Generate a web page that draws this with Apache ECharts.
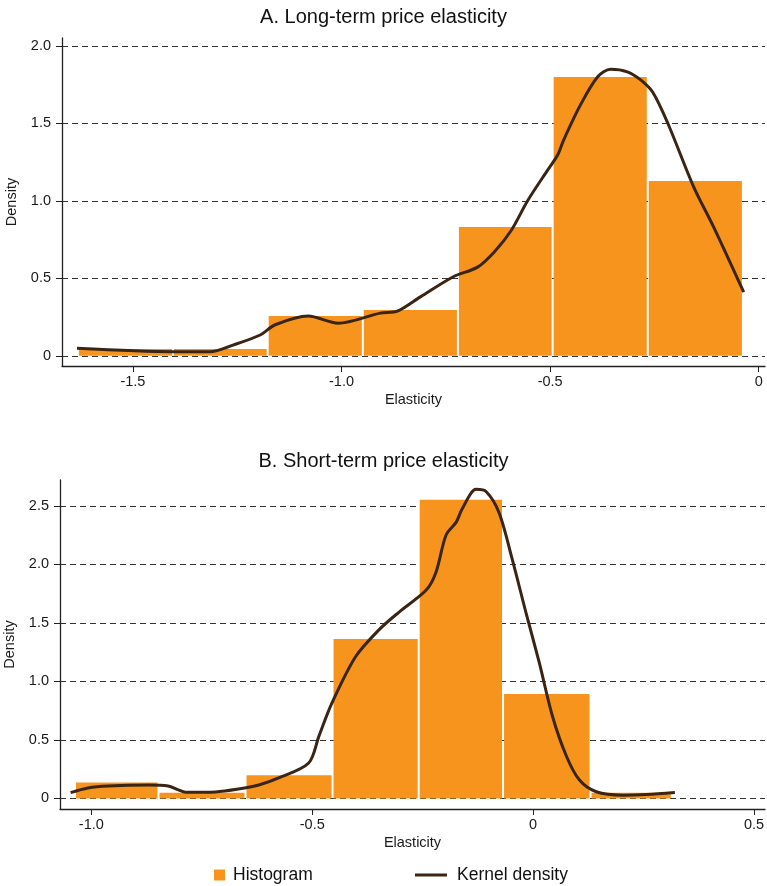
<!DOCTYPE html>
<html><head><meta charset="utf-8">
<script src="https://cdn.jsdelivr.net/npm/echarts@6/dist/echarts.min.js"></script>
<style>html,body{margin:0;padding:0;background:#fff}#c{width:767px;height:886px}</style>
</head><body><div id="c"></div>
<script>
// ---- Panel A: long-term price elasticity ----
const longBinEdges = [-1.632, -1.404, -1.177, -0.949, -0.721, -0.494, -0.266, -0.038];
const longDensity = [0.043, 0.043, 0.256, 0.295, 0.830, 1.798, 1.127];
const longKdeX = [-1.634, -1.404, -1.315, -1.260, -1.195, -1.159, -1.080, -1.008, -0.907, -0.866, -0.811, -0.732, -0.674, -0.634, -0.593, -0.554, -0.506, -0.482, -0.468, -0.427, -0.386, -0.355, -0.315, -0.283, -0.254, -0.218, -0.156, -0.108, -0.036];
const longKdeY = [0.048, 0.026, 0.026, 0.069, 0.134, 0.200, 0.256, 0.210, 0.275, 0.288, 0.380, 0.510, 0.572, 0.670, 0.810, 1.000, 1.198, 1.295, 1.390, 1.620, 1.800, 1.848, 1.832, 1.780, 1.700, 1.500, 1.090, 0.830, 0.410];
const longXTicks = [-1.5, -1.0, -0.5, 0];
const longYTicks = [0, 0.5, 1.0, 1.5, 2.0];

// ---- Panel B: short-term price elasticity ----
const shortBinEdges = [-1.037, -0.848, -0.651, -0.454, -0.259, -0.068, 0.130, 0.314];
const shortDensity = [0.137, 0.048, 0.199, 1.363, 2.552, 0.892, 0.048];
const shortKdeX = [-1.047, -1.008, -0.962, -0.871, -0.826, -0.803, -0.787, -0.719, -0.667, -0.621, -0.576, -0.508, -0.485, -0.456, -0.402, -0.349, -0.304, -0.242, -0.220, -0.197, -0.174, -0.161, -0.129, -0.106, -0.077, -0.047, -0.016, 0.014, 0.044, 0.076, 0.105, 0.143, 0.203, 0.257, 0.321];
const shortKdeY = [0.050, 0.090, 0.107, 0.115, 0.107, 0.073, 0.053, 0.056, 0.080, 0.115, 0.175, 0.303, 0.530, 0.810, 1.210, 1.440, 1.590, 1.780, 1.930, 2.250, 2.360, 2.470, 2.640, 2.620, 2.440, 2.040, 1.585, 1.160, 0.700, 0.356, 0.157, 0.057, 0.028, 0.034, 0.051];
const shortXTicks = [-1.0, -0.5, 0, 0.5];
const shortYTicks = [0, 0.5, 1.0, 1.5, 2.0, 2.5];

const ORANGE = '#F7941D';
const BROWN = '#3A2414';
const FONT = 'Liberation Sans, Arial, Helvetica, sans-serif';

function bins(edges, dens) {
  return dens.map((d, i) => [edges[i], edges[i + 1], d]);
}
function pairs(xs, ys) { return xs.map((x, i) => [x, ys[i]]); }
function fmt(v) { return v === 0 ? '0' : v.toFixed(1); }

function renderBin(params, api) {
  const p0 = api.coord([api.value(0), api.value(2)]);
  const p1 = api.coord([api.value(1), 0]);
  return {
    type: 'rect',
    shape: { x: p0[0] + 1, y: p0[1], width: p1[0] - p0[0] - 2, height: p1[1] - p0[1] },
    style: { fill: ORANGE }
  };
}

function xAxisCfg(gridIndex, min, max, ticks) {
  return {
    type: 'value', gridIndex, min, max,
    name: 'Elasticity', nameLocation: 'middle', nameGap: 26,
    nameTextStyle: { fontFamily: FONT, fontSize: 14.5, color: '#1a1a1a' },
    axisLine: { show: true, onZero: false, lineStyle: { color: '#222', width: 1.3 } },
    axisTick: { show: true, length: 6, customValues: ticks, lineStyle: { color: '#222' } },
    axisLabel: { customValues: ticks, formatter: fmt, margin: 8, fontFamily: FONT, fontSize: 14.5, color: '#1a1a1a' },
    splitLine: { show: false }
  };
}
function yAxisCfg(gridIndex, min, max, ticks) {
  return {
    type: 'value', gridIndex, min, max,
    name: 'Density', nameLocation: 'middle', nameGap: 36, nameRotate: 90,
    nameTextStyle: { fontFamily: FONT, fontSize: 14.5, color: '#1a1a1a' },
    axisLine: { show: true, onZero: false, lineStyle: { color: '#222', width: 1.3 } },
    axisTick: { show: true, length: 6, customValues: ticks, lineStyle: { color: '#222' } },
    axisLabel: { customValues: ticks, formatter: fmt, margin: 11, fontFamily: FONT, fontSize: 14.5, color: '#1a1a1a' },
    splitLine: { show: true, lineStyle: { color: '#333', type: [6, 4], width: 1 } }
  };
}

const chart = echarts.init(document.getElementById('c'), null, { renderer: 'canvas' });
chart.setOption({
  animation: false,
  backgroundColor: '#fff',
  title: [
    { text: 'A. Long-term price elasticity', left: 'center', top: 2, textStyle: { fontFamily: FONT, fontSize: 20, fontWeight: 'normal', color: '#111' } },
    { text: 'B. Short-term price elasticity', left: 'center', top: 446, textStyle: { fontFamily: FONT, fontSize: 20, fontWeight: 'normal', color: '#111' } }
  ],
  grid: [
    { left: 62, top: 38, width: 703, height: 328, outerBoundsMode: 'none', containLabel: false },
    { left: 60, top: 480, width: 705, height: 329, outerBoundsMode: 'none', containLabel: false }
  ],
  xAxis: [
    xAxisCfg(0, -1.670, 0.015, longXTicks),
    xAxisCfg(1, -1.071, 0.525, shortXTicks)
  ],
  yAxis: [
    yAxisCfg(0, -0.066, 2.05, longYTicks),
    yAxisCfg(1, -0.09, 2.72, shortYTicks)
  ],
  legend: [
    { data: ['Histogram'], left: 214, top: 866, padding: 0, icon: 'rect', itemWidth: 11, itemHeight: 11, itemGap: 0,
      textStyle: { fontFamily: FONT, fontSize: 17.5, color: '#111', padding: [0, 0, 0, 3] } },
    { data: ['Kernel density'], left: 415, top: 866, padding: 0, icon: 'rect', itemWidth: 32, itemHeight: 3, itemGap: 0,
      textStyle: { fontFamily: FONT, fontSize: 17.5, color: '#111', padding: [0, 0, 0, 5] } }
  ],
  series: [
    { name: 'Histogram', type: 'custom', xAxisIndex: 0, yAxisIndex: 0, renderItem: renderBin,
      itemStyle: { color: ORANGE }, encode: { x: [0, 1], y: 2 }, data: bins(longBinEdges, longDensity), z: 2 },
    { name: 'Kernel density', type: 'line', xAxisIndex: 0, yAxisIndex: 0, data: pairs(longKdeX, longKdeY),
      smooth: 0.3, showSymbol: false, symbol: 'none', color: BROWN, clip: false,
      lineStyle: { color: BROWN, width: 3 }, z: 3 },
    { name: 'Histogram', type: 'custom', xAxisIndex: 1, yAxisIndex: 1, renderItem: renderBin,
      itemStyle: { color: ORANGE }, encode: { x: [0, 1], y: 2 }, data: bins(shortBinEdges, shortDensity), z: 2 },
    { name: 'Kernel density', type: 'line', xAxisIndex: 1, yAxisIndex: 1, data: pairs(shortKdeX, shortKdeY),
      smooth: 0.3, showSymbol: false, symbol: 'none', color: BROWN, clip: false,
      lineStyle: { color: BROWN, width: 3 }, z: 3 }
  ]
});
</script></body></html>
